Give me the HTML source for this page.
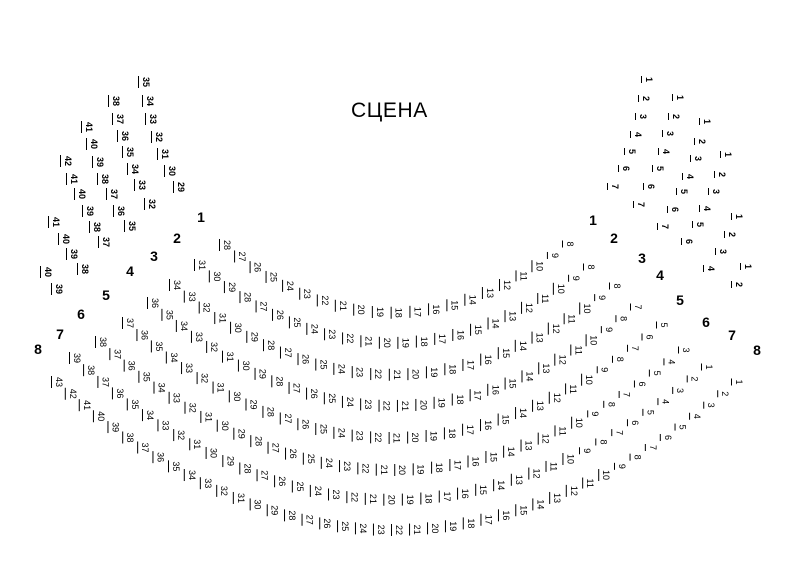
<!DOCTYPE html>
<html><head><meta charset="utf-8"><style>
html,body{margin:0;padding:0;background:#fff;width:800px;height:567px;overflow:hidden;position:relative;font-family:"Liberation Sans",sans-serif;color:#000}
.r{position:absolute;left:0;top:0;width:800px;height:567px}
.r i{position:absolute;left:0;top:0;font-style:normal;display:block;writing-mode:vertical-rl;font-size:9px;line-height:9px;border-left:1px solid #000;padding-left:2px;padding-top:1px;padding-bottom:1px;offset-path:var(--p);offset-rotate:0deg;offset-anchor:0 50%;offset-distance:calc(var(--i) / var(--n) * 100%)}
.s{position:absolute;font-style:normal;display:block;writing-mode:vertical-rl;font-size:9px;line-height:9px;border-left:1px solid #000;padding-left:2px;padding-top:1px;padding-bottom:1px}
.l{position:absolute;font-weight:bold;font-size:14px;line-height:14px;transform:translate(-50%,-50%)}
.t{position:absolute;left:351px;top:99px;font-size:21px;line-height:24px;letter-spacing:0.6px}
i:nth-child(1){--i:0}i:nth-child(2){--i:1}i:nth-child(3){--i:2}i:nth-child(4){--i:3}i:nth-child(5){--i:4}i:nth-child(6){--i:5}i:nth-child(7){--i:6}i:nth-child(8){--i:7}i:nth-child(9){--i:8}i:nth-child(10){--i:9}i:nth-child(11){--i:10}i:nth-child(12){--i:11}i:nth-child(13){--i:12}i:nth-child(14){--i:13}i:nth-child(15){--i:14}i:nth-child(16){--i:15}i:nth-child(17){--i:16}i:nth-child(18){--i:17}i:nth-child(19){--i:18}i:nth-child(20){--i:19}i:nth-child(21){--i:20}i:nth-child(22){--i:21}i:nth-child(23){--i:22}i:nth-child(24){--i:23}i:nth-child(25){--i:24}i:nth-child(26){--i:25}i:nth-child(27){--i:26}i:nth-child(28){--i:27}i:nth-child(29){--i:28}i:nth-child(30){--i:29}i:nth-child(31){--i:30}i:nth-child(32){--i:31}i:nth-child(33){--i:32}i:nth-child(34){--i:33}i:nth-child(35){--i:34}i:nth-child(36){--i:35}i:nth-child(37){--i:36}i:nth-child(38){--i:37}i:nth-child(39){--i:38}i:nth-child(40){--i:39}i:nth-child(41){--i:40}i:nth-child(42){--i:41}i:nth-child(43){--i:42}
</style></head><body>
<div class="t">СЦЕНА</div>

<div class="r" style="--p:path('M219 245 Q390 381 562 244');--n:20"><i>28</i><i>27</i><i>26</i><i>25</i><i>24</i><i>23</i><i>22</i><i>21</i><i>20</i><i>19</i><i>18</i><i>17</i><i>16</i><i>15</i><i>14</i><i>13</i><i>12</i><i>11</i><i>10</i><i>9</i><i>8</i></div>
<div class="r" style="--p:path('M194 265 Q388 420 583 267');--n:23"><i>31</i><i>30</i><i>29</i><i>28</i><i>27</i><i>26</i><i>25</i><i>24</i><i>23</i><i>22</i><i>21</i><i>20</i><i>19</i><i>18</i><i>17</i><i>16</i><i>15</i><i>14</i><i>13</i><i>12</i><i>11</i><i>10</i><i>9</i><i>8</i></div>
<div class="r" style="--p:path('M169 285 Q389 464 609 286');--n:26"><i>34</i><i>33</i><i>32</i><i>31</i><i>30</i><i>29</i><i>28</i><i>27</i><i>26</i><i>25</i><i>24</i><i>23</i><i>22</i><i>21</i><i>20</i><i>19</i><i>18</i><i>17</i><i>16</i><i>15</i><i>14</i><i>13</i><i>12</i><i>11</i><i>10</i><i>9</i><i>8</i></div>
<div class="r" style="--p:path('M147 303 Q388 507 630 307');--n:29"><i>36</i><i>35</i><i>34</i><i>33</i><i>32</i><i>31</i><i>30</i><i>29</i><i>28</i><i>27</i><i>26</i><i>25</i><i>24</i><i>23</i><i>22</i><i>21</i><i>20</i><i>19</i><i>18</i><i>17</i><i>16</i><i>15</i><i>14</i><i>13</i><i>12</i><i>11</i><i>10</i><i>9</i><i>8</i><i>7</i></div>
<div class="r" style="--p:path('M122 323 Q389 552 656 325');--n:32"><i>37</i><i>36</i><i>35</i><i>34</i><i>33</i><i>32</i><i>31</i><i>30</i><i>29</i><i>28</i><i>27</i><i>26</i><i>25</i><i>24</i><i>23</i><i>22</i><i>21</i><i>20</i><i>19</i><i>18</i><i>17</i><i>16</i><i>15</i><i>14</i><i>13</i><i>12</i><i>11</i><i>10</i><i>9</i><i>8</i><i>7</i><i>6</i><i>5</i></div>
<div class="r" style="--p:path('M95 342 Q386 594 678 350');--n:35"><i>38</i><i>37</i><i>36</i><i>35</i><i>34</i><i>33</i><i>32</i><i>31</i><i>30</i><i>29</i><i>28</i><i>27</i><i>26</i><i>25</i><i>24</i><i>23</i><i>22</i><i>21</i><i>20</i><i>19</i><i>18</i><i>17</i><i>16</i><i>15</i><i>14</i><i>13</i><i>12</i><i>11</i><i>10</i><i>9</i><i>8</i><i>7</i><i>6</i><i>5</i><i>4</i><i>3</i></div>
<div class="r" style="--p:path('M69 358 Q385 637 701 367');--n:38"><i>39</i><i>38</i><i>37</i><i>36</i><i>35</i><i>34</i><i>33</i><i>32</i><i>31</i><i>30</i><i>29</i><i>28</i><i>27</i><i>26</i><i>25</i><i>24</i><i>23</i><i>22</i><i>21</i><i>20</i><i>19</i><i>18</i><i>17</i><i>16</i><i>15</i><i>14</i><i>13</i><i>12</i><i>11</i><i>10</i><i>9</i><i>8</i><i>7</i><i>6</i><i>5</i><i>4</i><i>3</i><i>2</i><i>1</i></div>
<div class="r" style="--p:path('M51 382 Q391 678 731 382');--n:42"><i>43</i><i>42</i><i>41</i><i>40</i><i>39</i><i>38</i><i>37</i><i>36</i><i>35</i><i>34</i><i>33</i><i>32</i><i>31</i><i>30</i><i>29</i><i>28</i><i>27</i><i>26</i><i>25</i><i>24</i><i>23</i><i>22</i><i>21</i><i>20</i><i>19</i><i>18</i><i>17</i><i>16</i><i>15</i><i>14</i><i>13</i><i>12</i><i>11</i><i>10</i><i>9</i><i>8</i><i>7</i><i>6</i><i>5</i><i>4</i><i>3</i><i>2</i><i>1</i></div>

<!-- left upper -->
<b class="s" style="left:138px;top:76px">35</b><b class="s" style="left:142px;top:95px">34</b><b class="s" style="left:145px;top:113px">33</b><b class="s" style="left:151px;top:131px">32</b><b class="s" style="left:157px;top:148px">31</b><b class="s" style="left:164px;top:165px">30</b><b class="s" style="left:173px;top:181px">29</b>
<b class="s" style="left:108px;top:95px">38</b><b class="s" style="left:112px;top:113px">37</b><b class="s" style="left:117px;top:130px">36</b><b class="s" style="left:122px;top:146px">35</b><b class="s" style="left:127px;top:163px">34</b><b class="s" style="left:134px;top:179px">33</b><b class="s" style="left:144px;top:198px">32</b>
<b class="s" style="left:81px;top:121px">41</b><b class="s" style="left:86px;top:138px">40</b><b class="s" style="left:92px;top:156px">39</b><b class="s" style="left:97px;top:173px">38</b><b class="s" style="left:106px;top:188px">37</b><b class="s" style="left:113px;top:205px">36</b><b class="s" style="left:124px;top:220px">35</b>
<b class="s" style="left:60px;top:155px">42</b><b class="s" style="left:66px;top:173px">41</b><b class="s" style="left:74px;top:188px">40</b><b class="s" style="left:82px;top:205px">39</b><b class="s" style="left:89px;top:221px">38</b><b class="s" style="left:98px;top:236px">37</b>
<b class="s" style="left:48px;top:216px">41</b><b class="s" style="left:58px;top:233px">40</b><b class="s" style="left:66px;top:248px">39</b><b class="s" style="left:77px;top:263px">38</b>
<b class="s" style="left:40px;top:266px">40</b><b class="s" style="left:51px;top:283px">39</b>

<!-- right upper -->
<b class="s" style="left:641px;top:76px">1</b><b class="s" style="left:638px;top:95px">2</b><b class="s" style="left:635px;top:113px">3</b><b class="s" style="left:630px;top:131px">4</b><b class="s" style="left:624px;top:148px">5</b><b class="s" style="left:618px;top:165px">6</b><b class="s" style="left:607px;top:183px">7</b>
<b class="s" style="left:672px;top:94px">1</b><b class="s" style="left:668px;top:113px">2</b><b class="s" style="left:662px;top:130px">3</b><b class="s" style="left:658px;top:148px">4</b><b class="s" style="left:652px;top:165px">5</b><b class="s" style="left:643px;top:183px">6</b><b class="s" style="left:633px;top:201px">7</b>
<b class="s" style="left:699px;top:118px">1</b><b class="s" style="left:694px;top:138px">2</b><b class="s" style="left:690px;top:155px">3</b><b class="s" style="left:682px;top:173px">4</b><b class="s" style="left:676px;top:188px">5</b><b class="s" style="left:667px;top:206px">6</b><b class="s" style="left:657px;top:223px">7</b>
<b class="s" style="left:720px;top:151px">1</b><b class="s" style="left:714px;top:171px">2</b><b class="s" style="left:708px;top:188px">3</b><b class="s" style="left:699px;top:205px">4</b><b class="s" style="left:692px;top:221px">5</b><b class="s" style="left:681px;top:238px">6</b>
<b class="s" style="left:731px;top:213px">1</b><b class="s" style="left:724px;top:231px">2</b><b class="s" style="left:715px;top:248px">3</b><b class="s" style="left:703px;top:265px">4</b>
<b class="s" style="left:740px;top:263px">1</b><b class="s" style="left:731px;top:281px">2</b>

<!-- row labels -->
<b class="l" style="left:201px;top:217px">1</b><b class="l" style="left:177px;top:238px">2</b><b class="l" style="left:154px;top:256px">3</b><b class="l" style="left:130px;top:271px">4</b><b class="l" style="left:106px;top:295px">5</b><b class="l" style="left:81px;top:314px">6</b><b class="l" style="left:60px;top:334px">7</b><b class="l" style="left:38px;top:349px">8</b>
<b class="l" style="left:593px;top:220px">1</b><b class="l" style="left:614px;top:238px">2</b><b class="l" style="left:642px;top:258px">3</b><b class="l" style="left:660px;top:275px">4</b><b class="l" style="left:680px;top:300px">5</b><b class="l" style="left:706px;top:322px">6</b><b class="l" style="left:732px;top:335px">7</b><b class="l" style="left:757px;top:350px">8</b>
</body></html>
